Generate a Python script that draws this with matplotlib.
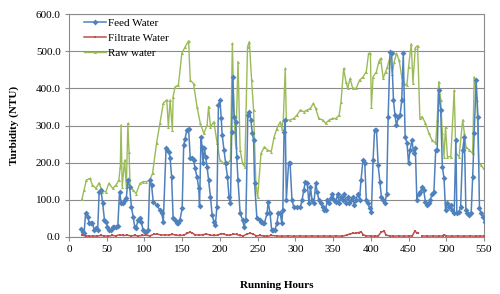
import numpy as np
import matplotlib
matplotlib.use("Agg")
import matplotlib.pyplot as plt

plt.rcParams['font.family'] = ['Liberation Serif', 'DejaVu Serif']

# Feed water (x hours, NTU)
feed_x = [15.6,17.9,20,22,24.6,27,29,31,33.5,35.7,38,40,42.4,44.6,47,49,51,53.6,55.8,58,60,62.5,64.7,67,69.2,71.4,73.7,76,78,80.4,82.6,85,87,89,91.5,94,96,98,100.4,102.7,105,107,109.4,111.6,116,120.5,122.8,125,128.6,130.4,132.6,134,136,138,140.6,143,145,147,150,152,154,156,158.5,160.7,163,165,167,169.6,172,173,175,176.3,177.7,179.5,181,183,185,187.5,189.7,192,194,196,198,200,201.8,203,205.4,207.6,210,212,214,215.6,217,218.8,221,222.3,224,226.8,230,232,234.4,237,239,241,243,244.6,246,249,252.7,254.5,256.7,259,262.5,264,266.4,268.6,271,273,275.4,277.6,280,282,283.4,285,286.6,288,291,293,295.5,297.8,302,306.7,309,311,313.4,315.7,318,320,322,324.6,327,329,331,333.6,336,338,340,342.5,344.8,347,349,351.5,353.7,356,358,360.5,362.7,365,367,369.4,371.7,374,376,378,380.6,382.8,385,387,389.6,392,394,396,398.5,400.8,403,405,407.5,409.7,412,414,416.4,418.7,421,423,425.5,427.6,430,432,434,436.6,438.8,441,443,445.5,448,450,452,454.5,456.7,459,461,463.5,465.7,468,470,472.4,474.7,477,479,481,483.6,486,488,490,492.6,494.8,497,499,501.5,503.8,506,508,510.5,512.7,514,517,519,521.7,524,526,528,530.6,533,535,537,539.6,542,544,546,548.5,550.7]
feed_y = [21,14,10,64,55,37,37,37,19,23,19,122,126,91,46,41,28,19,19,28,28,28,30,122,91,91,100,104,153,135,82,55,28,25,46,50,41,19,14,14,19,153,140,95,86,73,64,41,239,234,229,212,162,50,46,37,37,46,77,248,265,288,292,212,212,207,185,162,131,83,270,243,198,239,216,189,153,108,59,41,32,82,355,369,319,274,234,198,162,108,91,283,431,324,310,216,153,64,46,28,46,328,337,315,279,261,144,50,46,41,37,37,64,95,64,19,19,19,37,64,64,37,73,283,315,100,198,198,100,81,81,81,100,126,149,144,91,135,100,91,144,122,100,91,81,73,73,100,91,104,117,100,95,117,91,108,100,117,91,108,91,100,108,86,100,117,100,153,207,198,100,91,77,68,207,288,288,194,149,108,100,91,117,324,499,494,369,328,301,324,328,369,494,270,252,198,234,261,225,239,100,117,121,135,126,95,86,91,100,117,121,234,234,395,342,189,158,73,91,82,86,73,64,261,64,68,82,234,270,73,64,59,64,162,279,422,324,77,64,55,41]

# Filtrate water
filt_x = [17,22,27,32,37,42,47,52,57,62,67,72,77,82,87,92,97,102,107,112,117,122,127,132,137,142,147,152,157,160,163,167,172,177,182,187,192,197,202,205,209,214,218,222,226,231,236,240,244,248,253,258,263,268,275,282,290,298,306,314,322,330,338,346,354,362,368,372,376,380,384,387,390,394,400,405,410,414,418,420,425,430,437,444,450,455,458,461,463,465,468,475,482,490,495,497,500,507,515,523,531,539,545,550]
filt_y = [5,3,2,3,2,4,3,2,4,3,6,4,5,3,4,3,4,5,3,7,8,5,6,5,7,5,4,5,10,13,11,6,5,6,8,5,4,5,9,8,5,5,8,7,4,3,8,10,8,3,4,3,2,4,3,2,3,2,3,2,3,2,3,2,3,2,5,8,10,10,12,14,6,3,3,2,3,14,15,5,3,2,3,2,3,3,15,12,10,np.nan,3,2,3,2,3,6,3,2,3,2,3,2,3,2]

# Raw water
raw_x = [17,20,23,27.7,31,35.7,40,43.8,49,52.7,58,62.5,66,68,69,70.5,73.7,76,78,79.5,81,85,89,94,98,102.7,107,110.7,116,120.5,125,129.5,131.7,134,137,138,140.6,145,149.5,154,158.5,160.7,165,169.6,174,178.6,183,185,187.5,192,196.4,200,205,210,214,216.5,218.8,221,224,226.8,230,233,236.6,239,242,244.6,247.8,250,254.5,259,263,268,272,275.4,280,282,284,286.6,288,293,297.8,302,306.7,311,315.7,320,323.7,327,331,336,340,344.8,349,353.7,358,360.5,364,367,369.4,372.5,376,380.6,385,389.6,394,397,399.4,400.8,403,407.5,410.6,413,416.4,419.6,422,425.4,428.5,431,434,437.5,441,444,447.8,450,453.6,455.8,459,462,465,468,472.4,477,481,486,488,490,492.6,494.8,497,499,501.5,506,510.5,512.7,517,521.7,524,526,530.6,535,537,540.6,543,546,550.7]
raw_y = [101,126,153,158,140,131,146,122,122,144,131,140,153,189,301,135,207,135,306,230,135,126,117,144,149,149,153,171,252,306,360,369,297,369,288,378,404,409,494,512,528,422,413,351,306,279,301,351,297,310,252,207,198,198,207,521,324,243,472,234,198,189,512,526,422,342,135,108,225,243,234,230,270,292,310,292,315,454,315,315,319,328,342,337,342,346,360,346,319,315,306,315,319,319,328,364,454,418,400,427,400,400,422,431,445,494,494,351,431,445,472,481,427,445,458,485,440,472,494,476,431,413,409,458,520,415,510,515,320,324,306,279,261,252,315,418,369,279,216,297,216,216,395,225,216,315,279,243,234,225,431,369,198,194,180]

fig = plt.figure(figsize=(5.0, 2.94), dpi=100)
ax = fig.add_axes([0.138, 0.194, 0.830, 0.758])

ax.plot(feed_x, feed_y, color='#4F81BD', lw=1.1, marker='D', ms=3.0, mew=0, label='Feed Water', zorder=3)
ax.plot(filt_x, filt_y, color='#C0504D', lw=1.1, marker='s', ms=1.8, mew=0, label='Filtrate Water', zorder=4)
ax.plot(raw_x, raw_y, color='#9BBB59', lw=1.0, marker='^', ms=2.2, mew=0, label='Raw water', zorder=2)

ax.set_xlim(0, 550)
ax.set_ylim(0, 600)
ax.set_xticks(np.arange(0, 551, 50))
ax.set_yticks(np.arange(0, 601, 100))
ax.yaxis.set_major_formatter(matplotlib.ticker.FormatStrFormatter('%.1f'))
ax.grid(axis='y', color='#8C8C8C', lw=0.8)
ax.set_axisbelow(True)
for s in ax.spines.values():
    s.set_color('#8C8C8C')
    s.set_linewidth(0.8)
ax.tick_params(axis='both', labelsize=8, length=3, color='#8C8C8C', width=0.8, pad=3)

ax.set_xlabel('Running Hours', fontsize=8, fontweight='bold', labelpad=19)
ax.set_ylabel('Turbidity (NTU)', fontsize=8, fontweight='bold', labelpad=12)

leg = ax.legend(loc='upper left', bbox_to_anchor=(0.02, 1.01), frameon=False, fontsize=8,
                handlelength=2.0, handletextpad=0.2, labelspacing=0.45, borderaxespad=0.2)

fig.savefig('out.png', dpi=100)
